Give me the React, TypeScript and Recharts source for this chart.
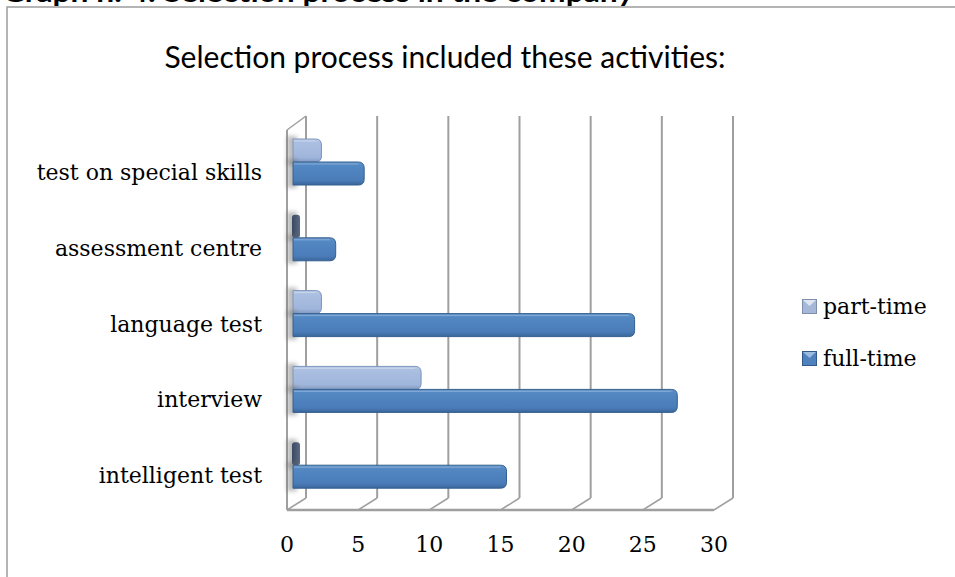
import { Bar, BarChart, CartesianGrid, Legend, ReferenceArea, XAxis, YAxis } from 'recharts'

const activities = ['test on special skills', 'assessment centre', 'language test', 'interview', 'intelligent test']
const partTime = [2, 0, 2, 9, 0]
const fullTime = [5, 3, 24, 27, 15]
const xTicks = [0, 5, 10, 15, 20, 25, 30]
const seriesOrder = ['part-time', 'full-time']

const rows = activities.map((activity, i) => ({
    activity,
    partTime: partTime[i],
    fullTime: fullTime[i],
}))

const SERIF = "'DejaVu Serif', serif"
const GRID = '#9f9f9f'

// depth offsets of the 3D box relative to the bar plane
const BACK = { dx: 13, top: -8, bottom: -5 }
const FRONT = { dx: -6, top: 6, bottom: 7 }

const palette = {
    full: { grad: 'fullGrad', stroke: '#34608f' },
    part: { grad: 'partGrad', stroke: '#7d94bd' },
}

function Bar3D(props: any) {
    const { x, y, width, height, kind } = props
    const c = palette[kind as 'full' | 'part']
    const shadow = (
        <rect x={x - 6} y={y - 3} width={10} height={height + 6} fill='#6f6f6f' opacity={0.45} filter='url(#wallShadow)' />
    )
    if (width < 1) {
        // zero value: only the dark end cap is visible
        return (
            <g>
                {shadow}
                <rect x={x - 1} y={y} width={8} height={height} rx={3} fill='url(#stubGrad)' />
            </g>
        )
    }
    const r = Math.min(6, width / 2)
    const d = `M${x},${y} H${x + width - r} Q${x + width},${y} ${x + width},${y + r} V${y + height - r} Q${x + width},${y + height} ${x + width - r},${y + height} H${x} Z`
    return (
        <g>
            {shadow}
            <path d={d} fill={`url(#${c.grad})`} stroke={c.stroke} strokeWidth={1} />
            <line x1={x + 1} y1={y + 2} x2={x + width - r} y2={y + 2} stroke='#ffffff' strokeOpacity={0.25} />
        </g>
    )
}

function GridLine(props: any) {
    const { x1, y1, y2 } = props
    const bx = x1 + BACK.dx
    return (
        <g key={props.key}>
            <line x1={bx} y1={y1 + BACK.top} x2={bx} y2={y2 + BACK.bottom} stroke={GRID} strokeWidth={2} />
            <line x1={bx} y1={y2 + BACK.bottom} x2={x1 + FRONT.dx} y2={y2 + FRONT.bottom} stroke={GRID} strokeWidth={1.5} />
        </g>
    )
}

// left wall and front edge of the floor
function BoxFrame(props: any) {
    const { x, y, width, height } = props
    const fx = x + FRONT.dx
    return (
        <g fill='none' stroke={GRID}>
            <line x1={fx} y1={y + FRONT.top} x2={fx} y2={y + height + FRONT.bottom} strokeWidth={2} />
            <line x1={fx} y1={y + FRONT.top} x2={x + BACK.dx} y2={y + BACK.top} strokeWidth={1.5} />
            <line x1={fx} y1={y + height + FRONT.bottom} x2={x + width + FRONT.dx} y2={y + height + FRONT.bottom} strokeWidth={2.5} />
        </g>
    )
}

function CategoryTick(props: any) {
    const { x, y, payload } = props
    return (
        <text x={x - 31} y={y + 18} textAnchor='end' fontFamily={SERIF} fontSize={22} fill='#000'>
            {payload.value}
        </text>
    )
}

function ValueTick(props: any) {
    const { x, y, payload } = props
    return (
        <text x={x + FRONT.dx} y={y + 49} textAnchor='middle' fontFamily={SERIF} fontSize={22} fill='#000'>
            {payload.value}
        </text>
    )
}

function LegendKey({ light, dark, top }: { light: string; dark: string; top: string }) {
    return (
        <svg width={15} height={15} style={{ display: 'block', marginRight: 6 }}>
            <rect x={0} y={0} width={15} height={15} fill={dark} />
            <rect x={1} y={1} width={13} height={13} fill={light} />
            <polygon points='1,1 14,1 7.5,7' fill={top} />
        </svg>
    )
}

function LegendContent(props: any) {
    const items = [...(props.payload ?? [])].sort(
        (a: any, b: any) => seriesOrder.indexOf(a.value) - seriesOrder.indexOf(b.value),
    )
    return (
        <div style={{ fontFamily: SERIF, fontSize: 22, color: '#000' }}>
            {items.map((entry: any) => (
                <div key={entry.value} style={{ display: 'flex', alignItems: 'center', height: 52 }}>
                    {entry.value === 'part-time' ? (
                        <LegendKey light='#a6b8d8' dark='#7e8fae' top='#dfe6f2' />
                    ) : (
                        <LegendKey light='#4f81bd' dark='#33598a' top='#9bbbe0' />
                    )}
                    <span>{entry.value}</span>
                </div>
            ))}
        </div>
    )
}

export default function App() {
    return (
        <div style={{ position: 'absolute', left: 0, top: 0, width: 955, height: 577, overflow: 'hidden', background: '#fff' }}>
            <BarChart
                width={955}
                height={577}
                layout='vertical'
                data={rows}
                margin={{ top: 124, right: 235, bottom: 44, left: 10 }}
                barGap={0}
                barSize={23}
            >
                <defs>
                    <linearGradient id='fullGrad' x1='0' y1='0' x2='0' y2='1'>
                        <stop offset='0%' stopColor='#6a97cc' />
                        <stop offset='15%' stopColor='#5288c3' />
                        <stop offset='80%' stopColor='#4a7cb8' />
                        <stop offset='100%' stopColor='#3a659b' />
                    </linearGradient>
                    <linearGradient id='partGrad' x1='0' y1='0' x2='0' y2='1'>
                        <stop offset='0%' stopColor='#c0cfe8' />
                        <stop offset='15%' stopColor='#aabfe1' />
                        <stop offset='80%' stopColor='#a0b5da' />
                        <stop offset='100%' stopColor='#8499c2' />
                    </linearGradient>
                    <linearGradient id='stubGrad' x1='0' y1='0' x2='1' y2='0'>
                        <stop offset='0%' stopColor='#3a4960' />
                        <stop offset='100%' stopColor='#5a6a84' />
                    </linearGradient>
                    <filter id='wallShadow' x='-100%' y='-50%' width='300%' height='200%'>
                        <feGaussianBlur stdDeviation='2' />
                    </filter>
                </defs>

                <rect x={7} y={7} width={1000} height={620} fill='none' stroke='#9c9c9c' strokeWidth={1.5} />
                <text
                    x={2}
                    y={1.5}
                    fontFamily='Lato, sans-serif'
                    fontWeight='bold'
                    fontSize={27}
                    fill='#000'
                    textLength={632}
                    lengthAdjust='spacingAndGlyphs'
                >
                    Graph n. 4: Selection process in the company
                </text>
                <text x={445} y={68} textAnchor='middle' fontFamily='Lato, sans-serif' fontSize={30} fill='#000'>
                    Selection process included these activities:
                </text>

                <CartesianGrid horizontal={false} vertical={GridLine} />
                <ReferenceArea x1={0} x2={30} shape={BoxFrame} ifOverflow='visible' />
                <XAxis
                    type='number'
                    domain={[0, 30]}
                    ticks={xTicks}
                    interval={0}
                    axisLine={false}
                    tickLine={false}
                    tickSize={0}
                    tickMargin={0}
                    height={30}
                    tick={ValueTick}
                />
                <YAxis
                    type='category'
                    dataKey='activity'
                    width={283}
                    interval={0}
                    axisLine={false}
                    tickLine={false}
                    tickSize={0}
                    tickMargin={0}
                    tick={CategoryTick}
                />
                <Legend
                    layout='vertical'
                    align='center'
                    verticalAlign='middle'
                    content={LegendContent}
                    wrapperStyle={{ left: 802, top: 280, width: 150, height: 104 }}
                />
                <Bar
                    dataKey='partTime'
                    name='part-time'
                    fill='#a6b8d8'
                    isAnimationActive={false}
                    shape={(p: any) => <Bar3D {...p} kind='part' />}
                />
                <Bar
                    dataKey='fullTime'
                    name='full-time'
                    fill='#4f81bd'
                    isAnimationActive={false}
                    shape={(p: any) => <Bar3D {...p} kind='full' />}
                />
            </BarChart>
        </div>
    )
}
